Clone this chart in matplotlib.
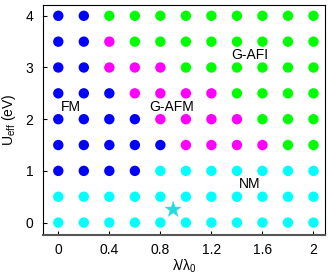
import matplotlib
matplotlib.use("Agg")
import matplotlib.pyplot as plt
import numpy as np

plt.rcParams['font.family'] = ['Liberation Sans', 'DejaVu Sans']
plt.rcParams['mathtext.fontset'] = 'custom'
plt.rcParams['mathtext.rm'] = 'Liberation Sans'
plt.rcParams['mathtext.it'] = 'Liberation Sans:italic'

lam = [0, 0.2, 0.4, 0.6, 0.8, 1.0, 1.2, 1.4, 1.6, 1.8, 2.0]
ueff = [4, 3.5, 3, 2.5, 2, 1.5, 1, 0.5, 0]
# phase per row (top to bottom): B=FM, M=G-AFM, G=G-AFI, C=NM
phases = [
    "BBGGGGGGGGG",
    "BBMGGGGGGGG",
    "BBMMMGGGGGG",
    "BBBMMMMGGGG",
    "BBBBMMMMGGG",
    "BBBBBMMMMGG",
    "BBBBCCCCCCC",
    "CCCCCCCCCCC",
    "CCCCCCCCCCC",
]
colors = {"B": "#0000ff", "M": "#ff00ff", "G": "#00ff00", "C": "#00ffff"}
star_x, star_y = [0.9], [0.25]
labels = ["FM", "G-AFM", "G-AFI", "NM"]
label_x = [0.1, 0.89, 1.5, 1.5]
label_y = [2.24, 2.24, 3.24, 0.74]
xticks = [0, 0.4, 0.8, 1.2, 1.6, 2]
xticklabels = ["0", "0.4", "0.8", "1.2", "1.6", "2"]
yticks = [0, 1, 2, 3, 4]

fig = plt.figure(figsize=(3.34, 2.75), dpi=100)
ax = fig.add_axes([0.1287, 0.1455, 0.973 - 0.1287, 0.982 - 0.1455])

for r, row in enumerate(phases):
    for c, ph in enumerate(row):
        ax.scatter(lam[c], ueff[r], s=56, color=colors[ph], edgecolors='none', zorder=3)
ax.scatter(star_x, star_y, marker='*', s=170, color='#22dde0', edgecolors='none', zorder=4)

for t, x, y in zip(labels, label_x, label_y):
    ax.text(x, y, t, ha='center', va='center', fontsize=10)

ax.set_xlim(-0.12, 2.09)
ax.set_ylim(-0.24, 4.21)
ax.set_xticks(xticks)
ax.set_xticklabels(xticklabels)
ax.set_yticks(yticks)
ax.tick_params(direction='in', length=3, width=0.8, labelsize=10)
ax.tick_params(axis='x', pad=6)
ax.tick_params(axis='y', pad=7)
ax.set_xlabel('λ/λ$_0$', fontsize=10, labelpad=0)
ax.set_ylabel(r'U$_{\rm eff}$ (eV)', fontsize=10, labelpad=5)
for s in ['left', 'top', 'right']:
    ax.spines[s].set_linewidth(0.8)
ax.spines['bottom'].set_linewidth(1.5)
ax.spines['bottom'].set_color('#555555')

fig.savefig('out.png', dpi=100)
